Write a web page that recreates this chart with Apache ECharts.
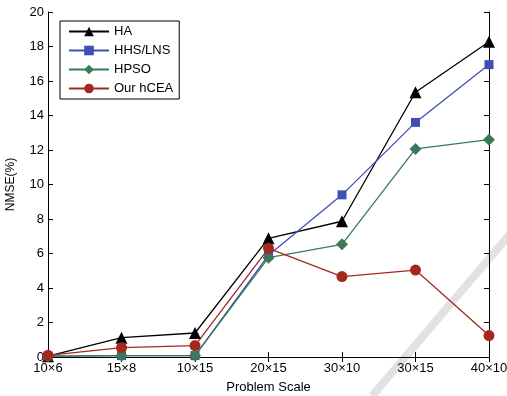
<!DOCTYPE html>
<html>
<head>
<meta charset="utf-8">
<script src="https://cdn.jsdelivr.net/npm/echarts@6/dist/echarts.min.js"></script>
<style>
  html, body { margin: 0; padding: 0; background: #fff; }
  #chart { width: 507px; height: 396px; }
</style>
</head>
<body>
<div id="chart"></div>
<script>
// problem sizes along x
var scales = ['10×6', '15×8', '10×15', '20×15', '30×10', '30×15', '40×10'];

// NMSE(%) per method
var haVals = [0.05, 1.12, 1.39, 6.88, 7.87, 15.35, 18.28];
var hhsVals = [0.05, 0.08, 0.08, 5.9, 9.4, 13.6, 16.95];
var hpsoVals = [0.05, 0.08, 0.08, 5.76, 6.53, 12.06, 12.6];
var hceaVals = [0.1, 0.54, 0.66, 6.3, 4.66, 5.04, 1.24];

var yTicks = { min: 0, max: 20, step: 2 };

var font = 'Liberation Sans, Arial, sans-serif';

function line(name, data, color, symbol, size) {
  return {
    name: name,
    type: 'line',
    data: data,
    symbol: symbol,
    symbolSize: size,
    itemStyle: { color: color },
    lineStyle: { color: color, width: 1.3 },
    emphasis: { disabled: true },
    animation: false
  };
}

var chart = echarts.init(document.getElementById('chart'), null, { renderer: 'canvas' });
chart.setOption({
  backgroundColor: '#fff',
  animation: false,
  textStyle: { fontFamily: font },
  grid: { left: 48, right: 18, top: 12, bottom: 39, containLabel: false, outerBoundsMode: 'none' },
  legend: {
    orient: 'vertical',
    left: 60,
    top: 21,
    padding: [4, 6, 4, 8],
    itemWidth: 40,
    itemHeight: 12,
    itemGap: 6,
    borderColor: '#000',
    borderWidth: 1,
    textStyle: { fontFamily: font, fontSize: 13, color: '#000' },
    data: ['HA', 'HHS/LNS', 'HPSO', 'Our hCEA']
  },
  xAxis: [{
    type: 'category',
    data: scales,
    boundaryGap: false,
    name: 'Problem Scale',
    nameLocation: 'middle',
    nameGap: 24,
    nameTextStyle: { fontFamily: font, fontSize: 13, color: '#000' },
    axisLine: { lineStyle: { color: '#000', width: 1 } },
    axisTick: { inside: true, length: 5, lineStyle: { color: '#000' } },
    axisLabel: { fontFamily: font, fontSize: 13, color: '#000', margin: 5 },
    splitLine: { show: false }
  }, {
    type: 'category',
    data: scales,
    boundaryGap: false,
    position: 'top',
    axisLine: { lineStyle: { color: '#000', width: 1 } },
    axisTick: { inside: true, length: 5, lineStyle: { color: '#000' } },
    axisLabel: { show: false }
  }],
  yAxis: [{
    type: 'value',
    min: yTicks.min,
    max: yTicks.max,
    interval: yTicks.step,
    name: 'NMSE(%)',
    nameLocation: 'middle',
    nameGap: 31,
    nameTextStyle: { fontFamily: font, fontSize: 12, color: '#000' },
    axisLine: { show: true, lineStyle: { color: '#000', width: 1 } },
    axisTick: { show: true, inside: true, length: 5, lineStyle: { color: '#000' } },
    axisLabel: { fontFamily: font, fontSize: 13, color: '#000', margin: 4 },
    splitLine: { show: false }
  }, {
    type: 'value',
    min: yTicks.min,
    max: yTicks.max,
    interval: yTicks.step,
    position: 'right',
    axisLine: { show: true, lineStyle: { color: '#000', width: 1 } },
    axisTick: { show: true, inside: true, length: 5, lineStyle: { color: '#000' } },
    axisLabel: { show: false },
    splitLine: { show: false }
  }],
  graphic: [{
    type: 'line',
    silent: true,
    z: -1,
    shape: { x1: 372, y1: 396, x2: 510, y2: 234 },
    style: { stroke: '#e2e2e2', lineWidth: 8 }
  }],
  series: [
    line('HA', haVals, '#000000', 'triangle', 12),
    line('HHS/LNS', hhsVals, '#3f4fb3', 'rect', 9),
    line('HPSO', hpsoVals, '#3a7a58', 'diamond', 12),
    line('Our hCEA', hceaVals, '#a3291d', 'circle', 11)
  ]
});
</script>
</body>
</html>
